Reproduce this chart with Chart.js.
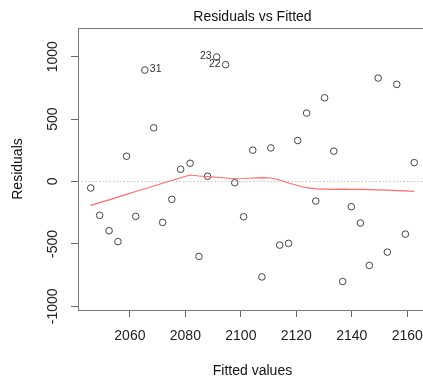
<!DOCTYPE html>
<html>
<head>
<meta charset="utf-8">
<script src="https://cdn.jsdelivr.net/npm/chart.js@4"></script>
<style>
html, body { margin: 0; padding: 0; overflow: hidden; background: #fff; }
#wrap { width: 423px; height: 378px; overflow: hidden; }
canvas { display: block; }
</style>
</head>
<body>
<div id="wrap"><canvas id="myChart" width="432" height="378"></canvas></div>
<script>
/* DATA */

var fitted = [2045.9, 2049.1, 2052.5, 2055.7, 2058.8, 2062.1, 2065.4, 2068.6, 2071.8, 2075.1,
  2078.3, 2081.7, 2084.9, 2088.0, 2091.3, 2094.5, 2097.8, 2101.0, 2104.3, 2107.6,
  2110.8, 2114.0, 2117.2, 2120.5, 2123.7, 2127.0, 2130.2, 2133.5, 2136.7, 2139.8,
  2143.1, 2146.3, 2149.5, 2152.8, 2156.2, 2159.3, 2162.5];
var residuals = [-52, -271, -395, -482, 202, -280, 893, 430, -328, -143,
  98, 146, -601, 42, 998, 936, -10, -283, 251, -765,
  269, -510, -496, 328, 548, -157, 671, 243, -802, -202,
  -333, -673, 829, -566, 778, -422, 151];
var smooth = [-191, -169, -147, -125, -103, -80, -58, -36, -14, 8,
  30, 52, 44, 39, 34, 28, 22, 24, 28, 31,
  28, 12, -12, -32, -50, -60, -62, -63, -62, -63,
  -64, -66, -68, -70, -73, -76, -79];

var xTicks = [2060, 2080, 2100, 2120, 2140, 2160];
var yTicks = [-1000, -500, 0, 500, 1000];

// labelled outliers
var idIndex = [6, 14, 15];
var idText = ['31', '23', '22'];
var idSide = ['right', 'left', 'left'];

/* CHART */

Chart.defaults.font.family = '"Liberation Sans", Arial, sans-serif';
Chart.defaults.color = '#222';

function plainLabel(v) {
  return String(v);
}

var extras = {
  id: 'extras',
  beforeDatasetsDraw: function(chart) {
    var ctx = chart.ctx, a = chart.chartArea;
    var y0 = chart.scales.y.getPixelForValue(0);
    ctx.save();
    ctx.strokeStyle = '#c4c4c4';
    ctx.lineWidth = 1;
    ctx.setLineDash([1.5, 2]);
    ctx.beginPath();
    ctx.moveTo(a.left, y0);
    ctx.lineTo(a.right, y0);
    ctx.stroke();
    ctx.restore();
  },
  afterDatasetsDraw: function(chart) {
    var ctx = chart.ctx, xs = chart.scales.x, ys = chart.scales.y;
    ctx.save();
    ctx.font = '10.5px "Liberation Sans", Arial';
    ctx.fillStyle = '#333';
    ctx.textBaseline = 'middle';
    idIndex.forEach(function(i, k) {
      var px = xs.getPixelForValue(fitted[i]);
      var py = ys.getPixelForValue(residuals[i]);
      var right = idSide[k] === 'right';
      ctx.textAlign = right ? 'left' : 'right';
      ctx.fillText(idText[k], px + (right ? 5 : -5), py - 0.5);
    });
    ctx.restore();
  }
};

var ctx = document.getElementById('myChart').getContext('2d');

var chart = new Chart(ctx, {
  type: 'scatter',
  data: {
    datasets: [{
      type: 'line',
      data: fitted.map(function(x, i) { return {x: x, y: smooth[i]}; }),
      borderColor: '#ff6a6a',
      borderWidth: 1.2,
      pointRadius: 0,
      tension: 0,
      fill: false,
      order: 0
    },
    {
      data: fitted.map(function(x, i) { return {x: x, y: residuals[i]}; }),
      pointRadius: 3.3,
      pointBorderWidth: 1,
      pointBorderColor: '#444',
      pointBackgroundColor: 'rgba(0,0,0,0)',
      order: 1
    }]
  },
  options: {
    responsive: false,
    animation: false,
    layout: { padding: { left: 0, right: 1, top: 0, bottom: 0 } },
    plugins: { legend: { display: false }, tooltip: { enabled: false } },
    scales: {
      x: {
        type: 'linear', position: 'bottom', min: 2041.3, max: 2167.1,
        afterBuildTicks: function(s) { s.ticks = xTicks.map(function(v) { return {value: v}; }); },
        afterFit: function(s) { s.height = 68; },
        grid: { drawOnChartArea: false, tickLength: 7, color: '#666' },
        border: { color: '#777' },
        // tall line box pushes the labels down without padding the sides
        ticks: { padding: 0, font: { size: 14, lineHeight: 2.8 }, color: '#222', maxRotation: 0, callback: plainLabel },
        title: { display: true, text: 'Fitted values', font: { size: 14, lineHeight: 1 }, padding: 0, color: '#111' }
      },
      x2: {
        type: 'linear', position: 'top', min: 2041.3, max: 2167.1,
        afterFit: function(s) { s.height = 28; },
        grid: { display: false },
        border: { color: '#777' },
        ticks: { display: false },
        title: { display: true, text: 'Residuals vs Fitted', font: { size: 14 }, padding: { top: 8.3, bottom: 0 }, color: '#111' }
      },
      y: {
        type: 'linear', position: 'left', min: -1030, max: 1230,
        afterBuildTicks: function(s) { s.ticks = yTicks.map(function(v) { return {value: v}; }); },
        afterFit: function(s) { s.width = 78; },
        grid: { drawOnChartArea: false, tickLength: 7, color: '#666' },
        border: { color: '#777' },
        ticks: { minRotation: 90, maxRotation: 90, crossAlign: 'center', padding: 0, font: { size: 14 }, color: '#222', callback: plainLabel },
        title: { display: true, text: 'Residuals', font: { size: 14 }, padding: { top: 9.6, bottom: 0 }, color: '#111' }
      }
    }
  },
  plugins: [extras]
});
</script>
</body>
</html>
